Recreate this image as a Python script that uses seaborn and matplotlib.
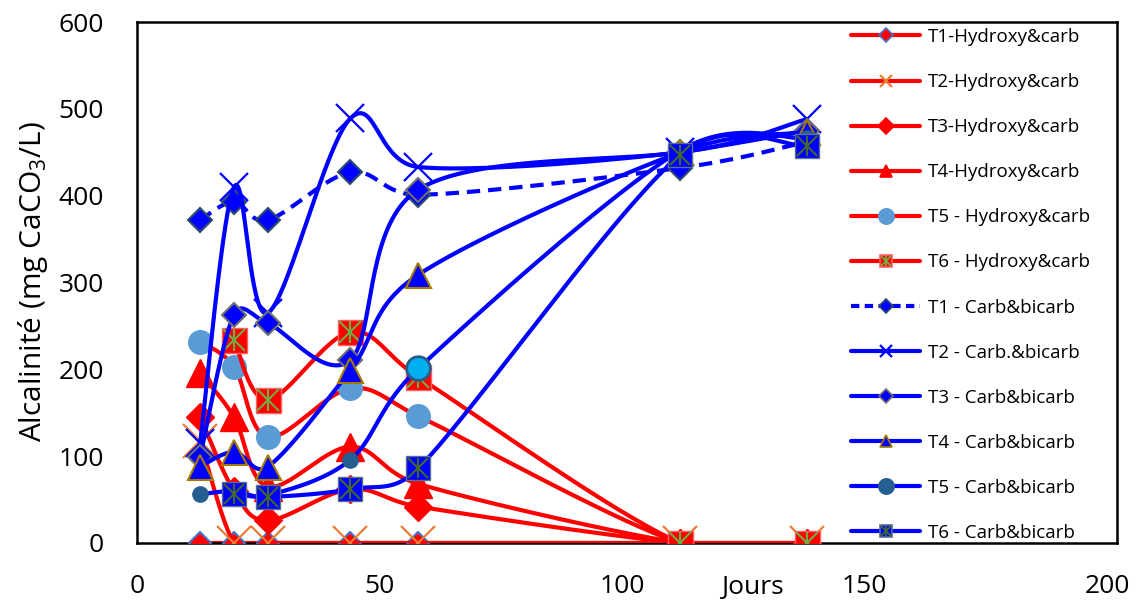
import numpy as np
import pandas as pd
import matplotlib
matplotlib.use("Agg")
import matplotlib.pyplot as plt
import seaborn as sns
from matplotlib.lines import Line2D

# Sampling days
days = [13, 20, 27, 44, 58, 112, 138]
nan = np.nan

# Alkalinity (mg CaCO3/L) - hydroxide & carbonate fraction
t1_hydroxy = [0, 0, 0, 0, 0, 0, 0]
t2_hydroxy = [118, 0, 0, 0, 0, 0, 0]
t3_hydroxy = [145, 60, 26, 62, 42, 0, 0]
t4_hydroxy = [196, 145, 65, 111, 68, 0, 0]
t5_hydroxy = [232, 203, 122, 178, 146, 0, 0]
t6_hydroxy = [nan, 234, 165, 243, 191, 0, 0]

# Alkalinity (mg CaCO3/L) - carbonate & bicarbonate fraction
t1_carb = [372, 393, 372, 427, 401, 432, 462]
t2_carb = [115, 410, 265, 489, 433, 450, 488]
t3_carb = [99, 263, 253, 211, 407, 450, 475]
t4_carb = [88, 105, 88, 199, 309, 450, 473]
t5_carb = [56, 60, 55, 96, 201, 452, 466]
t6_carb = [nan, 57, 53, 62, 86, 447, 457]

labels = ["T1-Hydroxy&carb", "T2-Hydroxy&carb", "T3-Hydroxy&carb",
          "T4-Hydroxy&carb", "T5 - Hydroxy&carb", "T6 - Hydroxy&carb",
          "T1 - Carb&bicarb", "T2 - Carb.&bicarb", "T3 - Carb&bicarb",
          "T4 - Carb&bicarb", "T5 - Carb&bicarb", "T6 - Carb&bicarb"]
values = [t1_hydroxy, t2_hydroxy, t3_hydroxy, t4_hydroxy, t5_hydroxy, t6_hydroxy,
          t1_carb, t2_carb, t3_carb, t4_carb, t5_carb, t6_carb]

RED = "#FF0000"
BLUE = "#0000FF"

# marker styles per series
styles = [
    dict(line=RED, ls="-", m="D", ms=11, fc=RED, ec="#4472C4", mew=1.5, star=None, lms=7),
    dict(line=RED, ls="-", m="x", ms=24, fc="#ED7D31", ec="#ED7D31", mew=1.6, star=None, lms=8),
    dict(line=RED, ls="-", m="D", ms=14, fc=RED, ec=RED, mew=1.0, star=None, lms=8),
    dict(line=RED, ls="-", m="^", ms=20, fc=RED, ec=RED, mew=1.0, star=None, lms=9),
    dict(line=RED, ls="-", m="o", ms=17, fc="#5B9BD5", ec="#5B9BD5", mew=1.0, star=None, lms=11),
    dict(line=RED, ls="-", m="s", ms=18, fc=RED, ec="#FF6060", mew=1.0, star="#70AD47", lms=8),
    dict(line=BLUE, ls="--", m="D", ms=12, fc=BLUE, ec="#2E4D6B", mew=1.5, star=None, lms=7),
    dict(line=BLUE, ls="-", m="x", ms=20, fc=BLUE, ec=BLUE, mew=1.6, star=None, lms=8),
    dict(line=BLUE, ls="-", m="D", ms=12, fc=BLUE, ec="#707070", mew=1.5, star=None, lms=7),
    dict(line=BLUE, ls="-", m="^", ms=18, fc=BLUE, ec="#A67A00", mew=1.5, star=None, lms=9),
    dict(line=BLUE, ls="-", m="o", ms=11, fc="#255E91", ec="#255E91", mew=1.0, star=None, lms=11),
    dict(line=BLUE, ls="-", m="s", ms=17, fc=BLUE, ec="#5A6F8F", mew=1.0, star="#43682B", lms=8),
]

# approximate screen scale (px per data unit) used for the smoothing tension
SX, SY = 4.85, 0.868


def smooth_curve(xs, ys, n=40):
    """Spreadsheet-style Bezier smoothing through every point."""
    pts = np.column_stack([np.asarray(xs, float) * SX, np.asarray(ys, float) * SY])
    padded = np.vstack([pts[0], pts, pts[-1]])
    t = np.linspace(0, 1, n)[:, None]
    segs = []
    for i in range(1, len(padded) - 2):
        p0, p1, p2, p3 = padded[i - 1], padded[i], padded[i + 1], padded[i + 2]
        d02 = np.hypot(*(p2 - p0))
        d12 = np.hypot(*(p2 - p1))
        d13 = np.hypot(*(p3 - p1))
        f1 = f2 = 1.0 / 6.0
        if d02 > 0 and d02 * f1 > d12 * 0.5:
            f1 = 0.5 * d12 / d02
        if d13 > 0 and d13 * f2 > d12 * 0.5:
            f2 = 0.5 * d12 / d13
        c1 = p1 + (p2 - p0) * f1
        c2 = p2 - (p3 - p1) * f2
        seg = ((1 - t) ** 3) * p1 + 3 * ((1 - t) ** 2) * t * c1 \
            + 3 * (1 - t) * (t ** 2) * c2 + (t ** 3) * p2
        segs.append(seg if i == 1 else seg[1:])
    out = np.vstack(segs)
    return out[:, 0] / SX, out[:, 1] / SY


sns.set_theme(style="white")
plt.rcParams["font.family"] = ["Open Sans", "DejaVu Sans"]
plt.rcParams["mathtext.fontset"] = "custom"
plt.rcParams["mathtext.rm"] = "Open Sans"
plt.rcParams["text.color"] = "black"

fig = plt.figure(figsize=(11.44, 6.0), dpi=100)
ax = fig.add_axes([137 / 1144, 1 - 543 / 600, (1117 - 137) / 1144, (543 - 22) / 600])

LW = 3.0
for k, (lab, vals, st) in enumerate(zip(labels, values, styles)):
    df = pd.DataFrame({"jour": days, "alc": vals}).dropna()
    cx, cy = smooth_curve(df["jour"].values, df["alc"].values)
    cdf = pd.DataFrame({"x": cx, "y": cy})
    z = 2 + k * 3
    sns.lineplot(data=cdf, x="x", y="y", sort=False, estimator=None, ax=ax,
                 color=st["line"], lw=LW, linestyle=st["ls"], zorder=z,
                 legend=False)
    if st["ls"] == "--":
        ax.lines[-1].set_dashes((3.2, 1.9))
    ax.plot(df["jour"], df["alc"], linestyle="none", marker=st["m"], ms=st["ms"],
            mfc=st["fc"], mec=st["ec"], mew=st["mew"], zorder=z + 1)
    if st["star"]:
        for mk in ("x", "|"):
            ax.plot(df["jour"], df["alc"], linestyle="none", marker=mk,
                    ms=st["ms"] - 2, mec=st["star"], mew=1.5, zorder=z + 2)

# one highlighted sample in the T5 carbonate series (day 58)
ax.plot([days[4]], [t5_carb[4]], linestyle="none", marker="o", ms=17,
        mfc="#00B0F0", mec="#2A5C8A", mew=2, zorder=40)

ax.set_xlim(0, 202)
ax.set_ylim(0, 600)
ax.set_xticks([0, 50, 100, 150, 200])
ax.set_yticks(range(0, 601, 100))
ax.set_xlabel("")
ax.set_ylabel("")
ax.tick_params(axis="both", length=0, labelsize=19, labelcolor="black")
ax.tick_params(axis="x", pad=22)
ax.tick_params(axis="y", pad=24)
for sp in ax.spines.values():
    sp.set_color("black")
    sp.set_linewidth(1.8)
    sp.set_visible(True)

fig.text(33 / 1144, 1 - 282 / 600, "Alcalinité (mg CaCO$_3$/L)", rotation=90,
         ha="center", va="center", fontsize=21.5, color="black")
fig.text(752 / 1144, 1 - 594 / 600, "Jours", ha="center", va="baseline",
         fontsize=19, color="black")

# legend handles
handles = []
for st in styles:
    base = Line2D([], [], color=st["line"], lw=LW, linestyle=st["ls"],
                  marker=st["m"], ms=st["lms"], mfc=st["fc"], mec=st["ec"],
                  mew=1.2 if st["m"] != "x" else 1.6)
    if st["ls"] == "--":
        base.set_dashes((2.0, 1.3))
    if st["star"]:
        stx = Line2D([], [], linestyle="none", marker="x", ms=st["lms"] - 1,
                     mec=st["star"], mew=1.3)
        stv = Line2D([], [], linestyle="none", marker="|", ms=st["lms"] - 1,
                     mec=st["star"], mew=1.3)
        handles.append((base, stx, stv))
    else:
        handles.append(base)

leg = fig.legend(handles, labels, loc="upper left",
                 bbox_to_anchor=(851 / 1144, 1 - 28 / 600), frameon=False,
                 fontsize=13.5, handlelength=3.7, handletextpad=0.4,
                 labelspacing=1.445, borderaxespad=0, borderpad=0)
for txt in leg.get_texts():
    txt.set_color("black")

fig.savefig("out.png", dpi=100)
